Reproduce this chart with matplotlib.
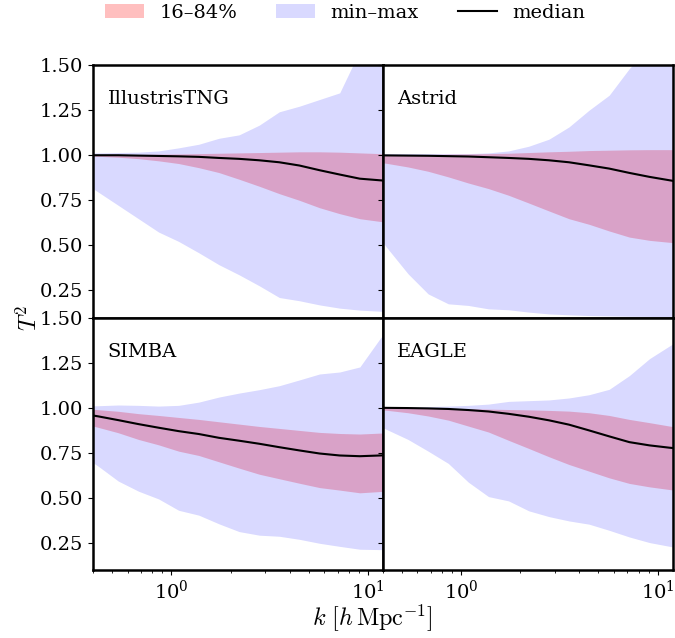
import numpy as np
import matplotlib
matplotlib.use("Agg")
import matplotlib.pyplot as plt

plt.rcParams['font.family'] = 'serif'
plt.rcParams['mathtext.fontset'] = 'cm'
plt.rcParams['font.size'] = 14

# --- data ---
k = [0.335, 0.424, 0.537, 0.680, 0.861, 1.089, 1.379, 1.745, 2.21,
     2.80, 3.54, 4.48, 5.67, 7.18, 9.09, 11.51, 14.57]

sims = ['IllustrisTNG', 'Astrid', 'SIMBA', 'EAGLE']

tng_max = [1.012, 1.013, 1.015, 1.017, 1.024, 1.041, 1.061, 1.094, 1.113,
           1.167, 1.241, 1.272, 1.309, 1.346, 1.58, 1.70, 1.80]
tng_hi = [1.002, 1.002, 1.002, 1.004, 1.006, 1.007, 1.009, 1.011, 1.013,
          1.015, 1.017, 1.019, 1.019, 1.017, 1.013, 1.009, 1.006]
tng_med = [1.0, 1.0, 1.0, 0.998, 0.996, 0.994, 0.991, 0.985, 0.980,
           0.972, 0.961, 0.943, 0.917, 0.893, 0.870, 0.861, 0.852]
tng_lo = [0.998, 0.994, 0.989, 0.981, 0.969, 0.954, 0.931, 0.904, 0.867,
          0.828, 0.787, 0.750, 0.709, 0.676, 0.648, 0.633, 0.620]
tng_min = [0.87, 0.796, 0.722, 0.648, 0.574, 0.522, 0.459, 0.393, 0.337,
           0.276, 0.211, 0.193, 0.170, 0.152, 0.141, 0.135, 0.130]

ast_max = [1.009, 1.009, 1.009, 1.009, 1.009, 1.009, 1.013, 1.024, 1.050,
           1.089, 1.157, 1.250, 1.333, 1.481, 1.60, 1.72, 1.84]
ast_hi = [1.002, 1.002, 1.004, 1.004, 1.006, 1.007, 1.009, 1.011, 1.015,
          1.019, 1.022, 1.026, 1.028, 1.030, 1.031, 1.031, 1.031]
ast_med = [1.0, 0.999, 0.998, 0.997, 0.995, 0.993, 0.989, 0.985, 0.980,
           0.972, 0.961, 0.944, 0.926, 0.902, 0.880, 0.861, 0.842]
ast_lo = [0.97, 0.954, 0.935, 0.911, 0.880, 0.846, 0.815, 0.778, 0.735,
          0.691, 0.648, 0.617, 0.580, 0.546, 0.528, 0.517, 0.507]
ast_min = [0.62, 0.481, 0.343, 0.231, 0.176, 0.167, 0.148, 0.143, 0.130,
           0.120, 0.115, 0.111, 0.109, 0.107, 0.106, 0.104, 0.103]

sim_max = [1.009, 1.011, 1.015, 1.013, 1.009, 1.013, 1.031, 1.059, 1.081,
           1.100, 1.122, 1.154, 1.187, 1.198, 1.226, 1.383, 1.52]
sim_hi = [0.997, 0.989, 0.980, 0.967, 0.957, 0.946, 0.935, 0.922, 0.909,
          0.896, 0.885, 0.874, 0.863, 0.857, 0.854, 0.859, 0.864]
sim_med = [0.97, 0.952, 0.931, 0.909, 0.889, 0.870, 0.854, 0.833, 0.817,
           0.800, 0.781, 0.763, 0.746, 0.735, 0.731, 0.735, 0.740]
sim_lo = [0.92, 0.891, 0.861, 0.824, 0.794, 0.759, 0.735, 0.700, 0.665,
          0.631, 0.606, 0.581, 0.557, 0.543, 0.528, 0.535, 0.540]
sim_min = [0.75, 0.676, 0.593, 0.537, 0.494, 0.431, 0.404, 0.356, 0.313,
           0.293, 0.287, 0.270, 0.248, 0.231, 0.215, 0.213, 0.210]

eag_max = [1.0, 1.0, 1.002, 1.006, 1.009, 1.013, 1.020, 1.035, 1.039,
           1.043, 1.054, 1.072, 1.102, 1.178, 1.272, 1.343, 1.41]
eag_hi = [1.002, 1.0, 0.999, 0.998, 0.996, 0.994, 0.992, 0.990, 0.988,
          0.985, 0.981, 0.972, 0.957, 0.935, 0.917, 0.898, 0.880]
eag_med = [1.0, 0.999, 0.998, 0.996, 0.993, 0.987, 0.979, 0.966, 0.950,
           0.930, 0.906, 0.874, 0.841, 0.809, 0.791, 0.778, 0.768]
eag_lo = [0.995, 0.985, 0.972, 0.954, 0.931, 0.898, 0.865, 0.819, 0.774,
          0.728, 0.685, 0.648, 0.611, 0.580, 0.561, 0.546, 0.530]
eag_min = [0.93, 0.876, 0.824, 0.759, 0.691, 0.587, 0.507, 0.483, 0.428,
           0.396, 0.372, 0.354, 0.320, 0.283, 0.252, 0.231, 0.210]

bands = {
    'IllustrisTNG': (tng_min, tng_lo, tng_med, tng_hi, tng_max),
    'Astrid': (ast_min, ast_lo, ast_med, ast_hi, ast_max),
    'SIMBA': (sim_min, sim_lo, sim_med, sim_hi, sim_max),
    'EAGLE': (eag_min, eag_lo, eag_med, eag_hi, eag_max),
}

fig, axes = plt.subplots(2, 2, figsize=(6.75, 6.38), sharex=True, sharey=True)
fig.subplots_adjust(left=0.138, right=0.9963, top=0.898, bottom=0.1066,
                    wspace=0, hspace=0)

for ax, name in zip(axes.flat, sims):
    lo_mm, lo_q, med, hi_q, hi_mm = bands[name]
    ax.fill_between(k, lo_q, hi_q, color='red', alpha=0.25, lw=0, label='16–84%')
    ax.fill_between(k, lo_mm, hi_mm, color='blue', alpha=0.15, lw=0, label='min–max')
    ax.plot(k, med, color='black', lw=1.5, label='median')
    ax.text(0.05, 0.9, name, transform=ax.transAxes, ha='left', va='top', fontsize=14)
    for s in ax.spines.values():
        s.set_linewidth(1.8)

ax = axes[0, 0]
ax.set_xscale('log')
ax.set_xlim(0.40, 11.9)
ax.set_ylim(0.1, 1.5)
ax.set_yticks([0.25, 0.5, 0.75, 1.0, 1.25, 1.5])

handles, labels = axes[0, 0].get_legend_handles_labels()
fig.legend(handles, labels, loc='center', bbox_to_anchor=(345 / 675, 0.98),
           ncol=3, frameon=False, fontsize=14)

fig.text(0.044, 0.502, r'$T^2$', rotation=90, ha='center', va='center', fontsize=17)
fig.text(0.551, 0.031, r'$k\ [h\,\mathrm{Mpc}^{-1}]$', ha='center', va='center',
         fontsize=17.5)

fig.savefig('out.png', dpi=100)
